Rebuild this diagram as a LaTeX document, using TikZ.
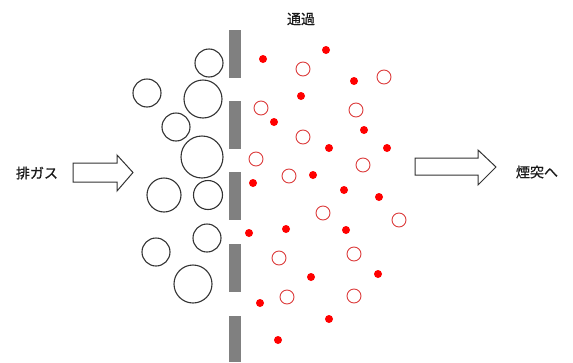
\documentclass[tikz,border=0pt]{standalone}
\usepackage{fontspec}
\newfontfamily\jp[FakeBold=0.6]{Noto Sans CJK JP}
\definecolor{wallgray}{RGB}{128,128,128}
\definecolor{ringred}{RGB}{220,60,60}
\begin{document}
\begin{tikzpicture}[x=1pt,y=-1pt,
  wall/.style={fill=wallgray,draw=none},
  bigparticle/.style={draw=black!80,line width=1.1pt},
  smalldot/.style={fill=red,draw=none},
  smallring/.style={draw=ringred,line width=0.9pt},
  flowarrow/.style={draw=black!80,line width=1pt,fill=white,line join=miter},
  label/.style={font=\jp\fontsize{14}{16}\selectfont,inner sep=0pt,text=black!90}]
\useasboundingbox (0,0) rectangle (573,362);

% filter wall with gaps
\foreach \ya/\yb in {30/78,101/149,172/220,244/292,316/362}
  \fill[wall] (229,\ya) rectangle (241,\yb);

% coarse particles held back by the wall
\foreach \cx/\cy/\r in {209/63/14,147/93/14,203/99/19,176/127/14,202/157/21,
  164/195/17,208/195/14.5,207/238/14,156/252/14,193/284/19}
  \draw[bigparticle] (\cx,\cy) circle (\r);

% fine particles passing through: solid dots
\foreach \cx/\cy in {263/59,326/50,354/81,301/96,274/122,364/130,329/148,387/148,
  313/175,253/183,344/190,379/197,249/233,286/229,346/230,311/277,378/274,
  260/303,329/319,278/340}
  \fill[smalldot] (\cx,\cy) circle (4);

% fine particles passing through: rings
\foreach \cx/\cy in {303/69,384/77,261/108,356/110,303/137,256/159,363/165,
  289/176,323/213,399/220,279/258,354/254,287/297,354/296}
  \draw[smallring] (\cx,\cy) circle (7);

% inlet arrow
\draw[flowarrow] (73,163) -- (117,163) -- (117,155) -- (133,172.5) -- (117,191)
  -- (117,182) -- (73,182) -- cycle;
% outlet arrow
\draw[flowarrow] (415,158) -- (478,158) -- (478,150) -- (496,167) -- (478,185)
  -- (478,175) -- (415,175) -- cycle;

\node[label] (inlet) at (37,173) {排ガス};
\node[label] (outlet) at (537,172) {煙突へ};
\node[label] (pass) at (301,19) {通過};
\end{tikzpicture}
\end{document}
